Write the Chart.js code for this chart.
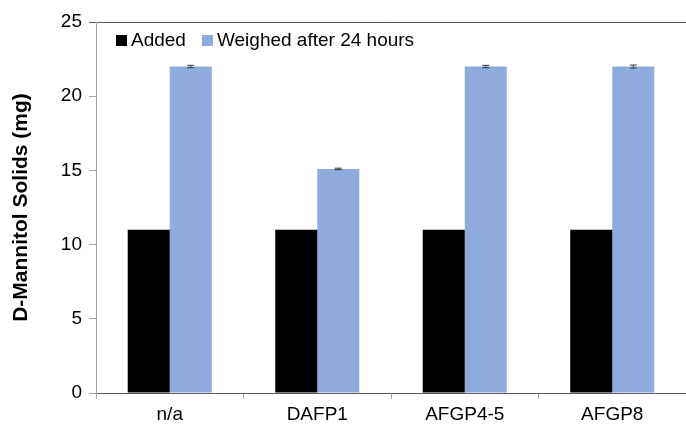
<!DOCTYPE html>
<html>
<head>
<meta charset="utf-8">
<script src="https://cdn.jsdelivr.net/npm/chart.js@4/dist/chart.umd.min.js"></script>
<style>
html,body{margin:0;padding:0;background:#fff;}
#wrap{width:686px;height:428px;position:relative;}
</style>
</head>
<body>
<div id="wrap"><canvas id="c" width="686" height="428"></canvas></div>
<script>
const categories = ["n/a", "DAFP1", "AFGP4-5", "AFGP8"];
const addedValues = [11, 11, 11, 11];
const weighedValues = [22.0, 15.1, 22.0, 22.0];
const weighedErrors = [0.08, 0.05, 0.08, 0.1];
const seriesLabels = ["Added", "Weighed after 24 hours"];
const yTicks = [0, 5, 10, 15, 20, 25];

const FONT = "'Liberation Sans', Arial, sans-serif";

const errorBarPlugin = {
  id: 'errorBars',
  afterDatasetsDraw(chart) {
    const ctx = chart.ctx;
    const meta = chart.getDatasetMeta(1);
    const y = chart.scales.y;
    ctx.save();
    ctx.strokeStyle = '#3a3a3a';
    ctx.lineWidth = 1;
    meta.data.forEach((bar, i) => {
      const v = weighedValues[i], e = weighedErrors[i];
      const yt = y.getPixelForValue(v + e), yb = y.getPixelForValue(v - e);
      const x = bar.x;
      ctx.beginPath();
      ctx.moveTo(x, yt); ctx.lineTo(x, yb);
      ctx.moveTo(x - 3.5, yt); ctx.lineTo(x + 3.5, yt);
      ctx.moveTo(x - 3.5, yb); ctx.lineTo(x + 3.5, yb);
      ctx.stroke();
    });
    ctx.restore();
  }
};

const legendPlugin = {
  id: 'insideLegend',
  afterDraw(chart) {
    const ctx = chart.ctx;
    ctx.save();
    ctx.font = "19px " + FONT;
    ctx.textBaseline = 'middle';
    let x = 116;
    const yc = 40;
    chart.data.datasets.forEach((ds) => {
      ctx.fillStyle = ds.backgroundColor;
      ctx.fillRect(x, yc - 5, 11, 11);
      ctx.fillStyle = '#000';
      ctx.fillText(ds.label, x + 15, yc + 1);
      x += 15 + ctx.measureText(ds.label).width + 16;
    });
    ctx.restore();
  }
};

new Chart(document.getElementById('c'), {
  type: 'bar',
  data: {
    labels: categories,
    datasets: [
      { label: seriesLabels[0], data: addedValues, backgroundColor: '#000000', borderWidth: 0 },
      { label: seriesLabels[1], data: weighedValues, backgroundColor: '#8FAADC', borderWidth: 0 }
    ]
  },
  options: {
    responsive: false,
    animation: false,
    devicePixelRatio: 1,
    layout: { padding: { top: 22, right: 0, left: 0, bottom: 0 } },
    plugins: { legend: { display: false }, tooltip: { enabled: false } },
    datasets: { bar: { categoryPercentage: 0.57, barPercentage: 1.0 } },
    scales: {
      x: {
        grid: { offset: true, drawOnChartArea: false, tickLength: 6, tickColor: '#a6a6a6' },
        border: { color: '#595959', width: 1 },
        ticks: { color: '#000', font: { family: FONT, size: 19 }, padding: 4, maxRotation: 0 },
        afterFit(scale) { scale.height = 35; }
      },
      y: {
        min: 0, max: 25,
        afterBuildTicks(scale) { scale.ticks = yTicks.map(v => ({ value: v })); },
        grid: {
          drawOnChartArea: true,
          tickLength: 7,
          color: (c) => (c.tick && c.tick.value === 25) ? '#595959' : 'rgba(0,0,0,0)',
          tickColor: (c) => (c.tick && c.tick.value === 25) ? '#595959' : '#a6a6a6'
        },
        border: { color: '#a6a6a6', width: 1 },
        ticks: { color: '#000', font: { family: FONT, size: 19 }, padding: 7 },
        title: {
          display: true,
          text: 'D-Mannitol Solids (mg)',
          color: '#000',
          font: { family: FONT, size: 21, weight: 'bold' },
          padding: { top: 9, bottom: 8 }
        },
        afterFit(scale) { scale.width = 96; }
      }
    }
  },
  plugins: [errorBarPlugin, legendPlugin]
});
</script>
</body>
</html>
